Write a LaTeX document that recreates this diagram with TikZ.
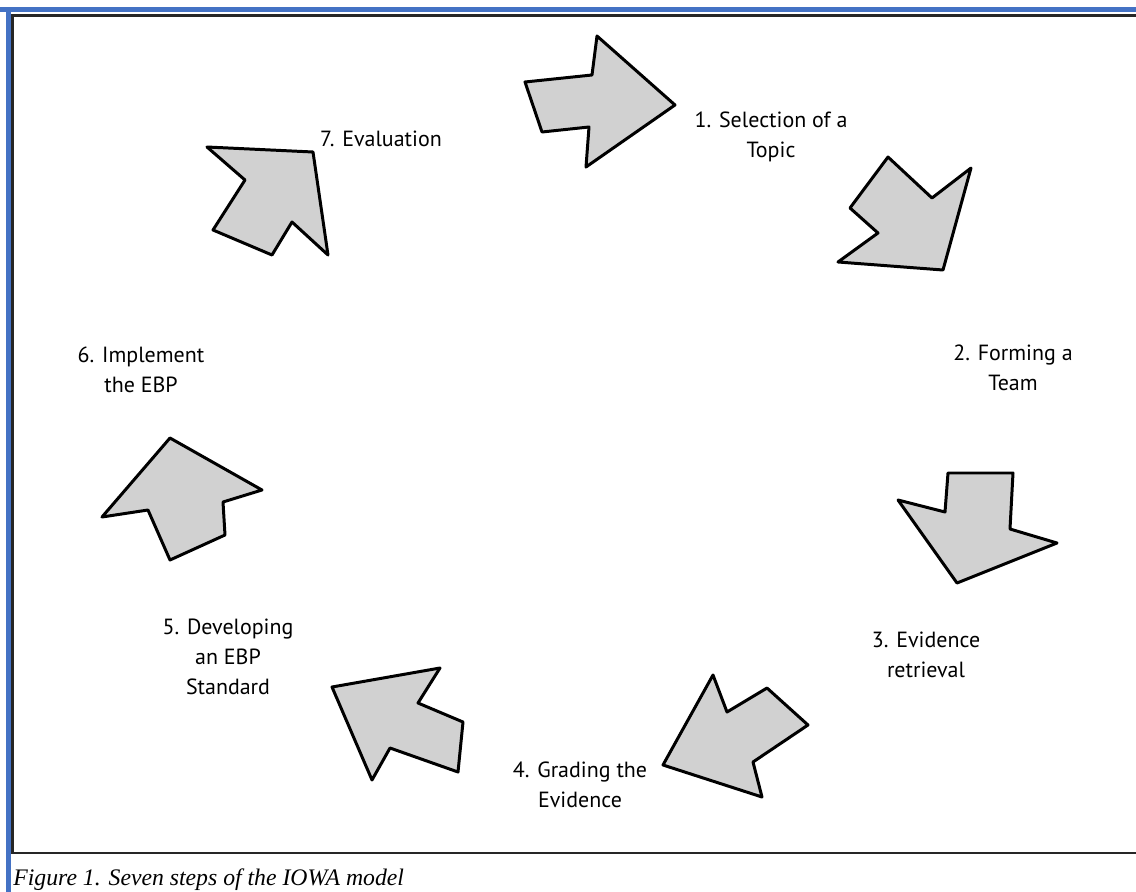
\documentclass[tikz,border=0pt]{standalone}
\usepackage{fontspec}
\setmainfont{Liberation Serif}
\newfontfamily\steplabelfont{PT Sans}
\usetikzlibrary{positioning}

\begin{document}
\begin{tikzpicture}[
        x=0.02cm, y=-0.02cm,
        every node/.style={inner sep=0pt},
        steparrow/.style={draw=black, fill=black!18, line width=1.7pt, line join=round},
        steplabel/.style={align=center, font=\steplabelfont\fontsize{12.5}{17}\selectfont},
        frameblue/.style={draw={rgb,255:red,68;green,114;blue,196}, line width=3.4pt},
        frameline/.style={draw=black!85, line width=1.3pt}
    ]
        \useasboundingbox (0,0) rectangle (1136,892);

        % frame
        \draw[frameblue] (0,9.5) -- (8.5,9.5) -- (1136,9.5);
        \draw[frameblue] (8.5,9.5) -- (8.5,892);
        \draw[frameline] (1136,15.5) -- (12.5,15.5) -- (12.5,853) -- (1136,853);

        % step labels
        \node[steplabel] (sel)   at (771,137) {1. Selection of a\\Topic};
        \node[steplabel] (team)  at (1013,368) {2. Forming a\\Team};
        \node[steplabel] (retr)  at (926,655) {3. Evidence\\retrieval};
        \node[steplabel] (grade) at (580,785) {4. Grading the\\Evidence};
        \node[steplabel] (dev)   at (228,657) {5. Developing\\an EBP\\Standard};
        \node[steplabel] (impl)  at (141,370) {6. Implement\\the EBP};
        \node[steplabel] (eval)  at (381,139) {7. Evaluation};

        % arrows between the steps
        \draw[steparrow] (525,82) -- (592,75) -- (597,36) -- (675,105) -- (586,167) -- (589,127) -- (542,132) -- cycle;
        \draw[steparrow] (888,157) -- (932,198) -- (971,168) -- (943,270) -- (838,262) -- (878,233) -- (850,208) -- cycle;
        \draw[steparrow] (948,473) -- (1013,473) -- (1010,529) -- (1057,543) -- (957,583) -- (898,500) -- (945,512) -- cycle;
        \draw[steparrow] (713,675) -- (727,712) -- (767,688) -- (808,725) -- (753,762) -- (762,797) -- (663,765) -- cycle;
        \draw[steparrow] (332,687) -- (440,668) -- (418,703) -- (463,722) -- (458,772) -- (390,748) -- (372,780) -- cycle;
        \draw[steparrow] (170,438) -- (262,490) -- (223,502) -- (225,535) -- (170,560) -- (148,510) -- (102,517) -- cycle;
        \draw[steparrow] (313,152) -- (328,255) -- (292,222) -- (272,255) -- (213,230) -- (245,180) -- (207,147) -- cycle;

        % caption
        \node[anchor=west, font=\itshape\fontsize{13.5}{15}\selectfont] (caption) at (13,880) {Figure 1. Seven steps of the IOWA model};
\end{tikzpicture}
\end{document}
